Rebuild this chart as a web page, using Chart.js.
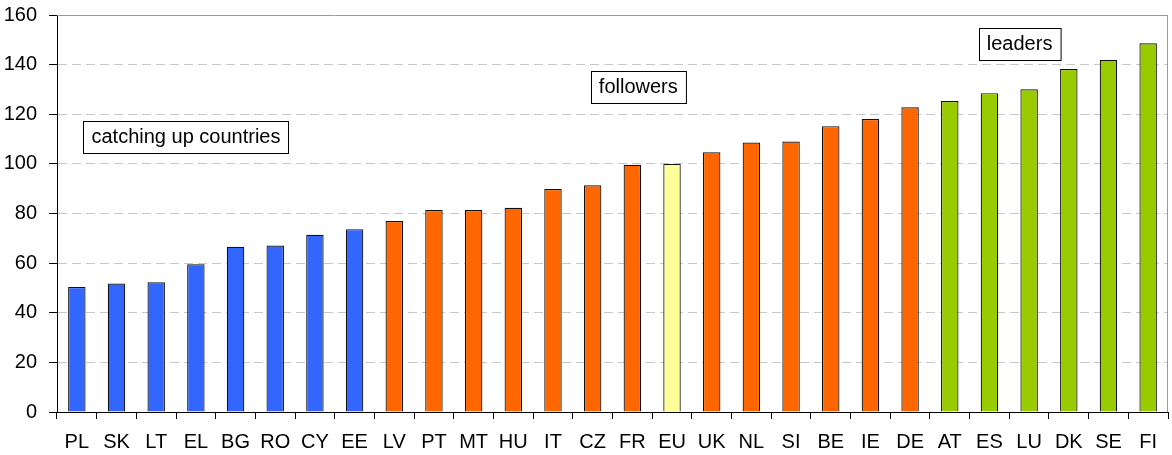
<!DOCTYPE html>
<html>
<head>
    <title>Country index</title>
    <script src="https://cdn.jsdelivr.net/npm/chart.js"></script>
    <style>
        html, body { margin: 0; padding: 0; background: #fff; }
        #wrap { width: 1172px; height: 455px; }
    </style>
</head>
<body>
    <div id="wrap"><canvas id="myChart" width="1172" height="455"></canvas></div>
    <script>
        var countries = ['PL', 'SK', 'LT', 'EL', 'BG', 'RO', 'CY', 'EE', 'LV', 'PT', 'MT', 'HU', 'IT', 'CZ',
                         'FR', 'EU', 'UK', 'NL', 'SI', 'BE', 'IE', 'DE', 'AT', 'ES', 'LU', 'DK', 'SE', 'FI'];
        var values = [50.4, 51.8, 52.3, 59.5, 66.6, 67.1, 71.4, 73.7, 77.0, 81.4, 81.4, 82.3, 89.9, 91.4,
                      99.6, 100, 104.7, 108.6, 109.0, 115.2, 118.1, 122.8, 125.3, 128.5, 130.1, 138.2, 141.9, 148.6];
        var groups = ['catch', 'catch', 'catch', 'catch', 'catch', 'catch', 'catch', 'catch',
                      'follow', 'follow', 'follow', 'follow', 'follow', 'follow', 'follow', 'eu', 'follow',
                      'follow', 'follow', 'follow', 'follow', 'follow',
                      'lead', 'lead', 'lead', 'lead', 'lead', 'lead'];

        var groupColors = { catch: '#3366ff', follow: '#ff6600', eu: '#ffff99', lead: '#99cc00' };

        // text boxes, anchored on the category index / value scales
        var notes = [
            { text: 'catching up countries', at: 2.75, value: 111 },
            { text: 'followers', at: 14.15, value: 131 },
            { text: 'leaders', at: 23.76, value: 148.4 }
        ];

        var FONT = '"Liberation Sans", Arial, sans-serif';

        var notesPlugin = {
            id: 'notes',
            afterDraw: function(chart) {
                var ctx = chart.ctx;
                var xs = chart.scales.x, ys = chart.scales.y;
                ctx.save();
                ctx.font = '20px ' + FONT;
                ctx.textAlign = 'center';
                ctx.textBaseline = 'middle';
                notes.forEach(function(n) {
                    var cx = xs.getPixelForValue(n.at);
                    var cy = ys.getPixelForValue(n.value);
                    var w = ctx.measureText(n.text).width + 16;
                    var h = 32;
                    var x0 = Math.round(cx - w / 2) + 0.5, y0 = Math.round(cy - h / 2) + 0.5;
                    ctx.fillStyle = '#fff';
                    ctx.fillRect(x0, y0, w, h);
                    ctx.strokeStyle = '#000';
                    ctx.lineWidth = 1;
                    ctx.strokeRect(x0, y0, w, h);
                    ctx.fillStyle = '#000';
                    ctx.fillText(n.text, cx, cy + 1);
                });
                ctx.restore();
            }
        };

        // grey frame on top and right of the plot
        var framePlugin = {
            id: 'frame',
            beforeDatasetsDraw: function(chart) {
                var a = chart.chartArea, ctx = chart.ctx;
                ctx.save();
                ctx.strokeStyle = '#999';
                ctx.lineWidth = 1;
                ctx.beginPath();
                ctx.moveTo(a.left, a.top + 0.5);
                ctx.lineTo(a.right - 0.5, a.top + 0.5);
                ctx.lineTo(a.right - 0.5, a.bottom);
                ctx.stroke();
                ctx.restore();
            }
        };

        var ctx = document.getElementById('myChart').getContext('2d');
        var myChart = new Chart(ctx, {
            type: 'bar',
            data: {
                labels: countries,
                datasets: [{
                    data: values,
                    backgroundColor: groups.map(function(g) { return groupColors[g]; }),
                    borderColor: '#111',
                    borderWidth: 1.2,
                    borderSkipped: 'bottom',
                    barPercentage: 0.44,
                    categoryPercentage: 1
                }]
            },
            options: {
                responsive: false,
                animation: false,
                layout: { padding: { left: 0, right: 4, top: 15, bottom: 0 } },
                plugins: { legend: { display: false }, tooltip: { enabled: false } },
                scales: {
                    x: {
                        offset: true,
                        afterFit: function(scale) {
                            scale.height = 43;
                            scale.paddingLeft = 0;
                            scale.paddingRight = 0;
                        },
                        grid: { offset: true, drawOnChartArea: false, tickLength: 7, tickColor: '#000' },
                        border: { color: '#000', width: 1 },
                        ticks: { color: '#000', padding: 12, font: { family: FONT, size: 20, lineHeight: 1.1 },
                                 maxRotation: 0, autoSkip: false }
                    },
                    y: {
                        min: 0,
                        max: 160,
                        afterFit: function(scale) {
                            scale.width = 57;
                            scale.paddingTop = 0;
                            scale.paddingBottom = 0;
                        },
                        grid: { color: '#c8c8c8', tickColor: '#000', tickLength: 8 },
                        border: { color: '#000', width: 1, dash: [9, 5] },
                        ticks: { stepSize: 20, color: '#000', padding: 12, font: { family: FONT, size: 20 } }
                    }
                }
            },
            plugins: [framePlugin, notesPlugin]
        });
    </script>
</body>
</html>
